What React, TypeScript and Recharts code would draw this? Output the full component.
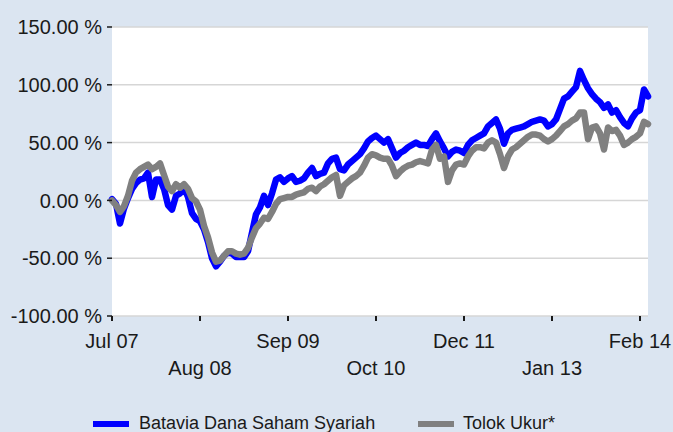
import React from 'react';
import { LineChart, Line, XAxis, YAxis, CartesianGrid } from 'recharts';

// one reading every 4 px of the original plot, Jul 07 .. Feb 14
const fund = [
  1, -3, -20, -7, 2, 10, 15, 18, 19, 24, 3, 18, 18, 10, -4, -8, 4, 6, 11, 3,
  -11, -16, -18, -25, -36, -50, -57, -53, -48, -45, -46, -49, -49, -49, -44, -28, -12, -6, 4, -4,
  6, 18, 20, 16, 19, 21, 16, 17, 19, 24, 28, 21, 23, 24, 32, 36, 37, 27, 26, 31,
  34, 37, 40, 45, 51, 54, 56, 53, 50, 53, 45, 37, 41, 43, 46, 48, 50, 48, 48, 47,
  53, 58, 51, 45, 38, 42, 44, 43, 41, 48, 52, 54, 56, 58, 64, 67, 70, 62, 49, 58,
  61, 62, 63, 64, 66, 68, 69, 70, 69, 64, 66, 70, 79, 88, 90, 94, 98, 112, 104, 97,
  92, 88, 85, 80, 83, 76, 78, 72, 67, 64, 71, 76, 78, 96, 90,
];

const benchmark = [
  0, -4, -10, -5, 4, 17, 24, 27, 29, 31, 27, 29, 32, 22, 12, 8, 14, 11, 14, 10,
  2, -1, -8, -22, -32, -45, -53, -52, -48, -44, -44, -46, -47, -46, -41, -32, -24, -20, -15, -16,
  -10, -3, 1, 2, 3, 3, 5, 6, 7, 10, 11, 8, 12, 14, 17, 20, 22, 4, 13, 16,
  19, 21, 24, 30, 37, 40, 39, 37, 36, 36, 30, 21, 25, 28, 30, 31, 33, 34, 33, 32,
  44, 48, 36, 38, 16, 26, 31, 32, 31, 38, 43, 46, 46, 45, 50, 52, 50, 40, 28, 38,
  44, 46, 49, 52, 55, 57, 57, 56, 53, 51, 53, 56, 60, 64, 66, 69, 71, 76, 76, 53,
  63, 64, 58, 44, 63, 60, 61, 56, 48, 50, 53, 55, 58, 68, 66,
];

const tickIdx = [0, 22, 44, 66, 88, 110, 132];
const tickLabels = ['Jul 07', 'Aug 08', 'Sep 09', 'Oct 10', 'Dec 11', 'Jan 13', 'Feb 14'];
const yTicks = [-100, -50, 0, 50, 100, 150];

const seriesNames = ['Batavia Dana Saham Syariah', 'Tolok Ukur*'];

const data = fund.map((v, i) => ({ i, fund: v, benchmark: benchmark[i] }));

const FONT = "'Liberation Sans', Arial, sans-serif";

function XTick(props: any) {
  const { x, y, payload } = props;
  const pos = tickIdx.indexOf(payload.value);
  const label = tickLabels[pos] ?? '';
  const row = pos % 2;
  return (
    <text
      x={x}
      y={y}
      dy={row === 0 ? 25 : 52}
      textAnchor="middle"
      fill="#1a1a1a"
      fontSize={20}
      fontFamily={FONT}
    >
      {label}
    </text>
  );
}

export default function App() {
  return (
    <div
      style={{
        position: 'relative',
        width: 673,
        height: 432,
        background: '#dbe5f1',
        fontFamily: FONT,
        overflow: 'hidden',
      }}
    >
      <style>{'body{margin:0}'}</style>
      <LineChart width={673} height={400} data={data} margin={{ top: 27, right: 25, left: 0, bottom: 24 }}>
        <CartesianGrid vertical={false} stroke="#d6d6d6" strokeWidth={1.5} fill="#ffffff" fillOpacity={1} />
        <XAxis
          type="number"
          dataKey="i"
          domain={[0, 134]}
          ticks={tickIdx}
          interval={0}
          axisLine={false}
          tickLine={{ stroke: '#1a1a1a', strokeWidth: 2 }}
          tickSize={5}
          height={60}
          tick={<XTick />}
        />
        <YAxis
          domain={[-100, 150]}
          ticks={yTicks}
          interval={0}
          width={112}
          axisLine={false}
          tickLine={{ stroke: '#1a1a1a', strokeWidth: 1.5 }}
          tickSize={5}
          tickMargin={5}
          tick={{ fill: '#1a1a1a', fontSize: 20, fontFamily: FONT }}
          tickFormatter={(v: number) => `${v.toFixed(2)} %`}
        />
        <Line
          type="linear"
          dataKey="fund"
          name={seriesNames[0]}
          stroke="#0000ff"
          strokeWidth={6.5}
          strokeLinejoin="round"
          strokeLinecap="round"
          dot={false}
          isAnimationActive={false}
        />
        <Line
          type="linear"
          dataKey="benchmark"
          name={seriesNames[1]}
          stroke="#808080"
          strokeWidth={6.5}
          strokeLinejoin="round"
          strokeLinecap="round"
          dot={false}
          isAnimationActive={false}
        />
      </LineChart>
      <div style={{ position: 'absolute', left: 93, top: 413, height: 22, fontSize: 18, color: '#1a1a1a' }}>
        <span style={{ position: 'absolute', left: 0, top: 8, width: 36, height: 6, background: '#0000ff' }} />
        <span style={{ position: 'absolute', left: 46, top: 0, whiteSpace: 'nowrap' }}>{seriesNames[0]}</span>
        <span style={{ position: 'absolute', left: 325, top: 8, width: 36, height: 6, background: '#808080' }} />
        <span style={{ position: 'absolute', left: 370, top: 0, whiteSpace: 'nowrap' }}>{seriesNames[1]}</span>
      </div>
    </div>
  );
}
